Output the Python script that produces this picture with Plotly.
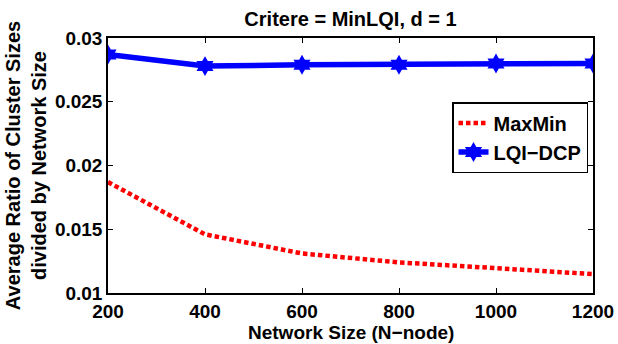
import plotly.graph_objects as go

# Network sizes (number of nodes)
n_nodes = [200, 400, 600, 800, 1000, 1200]

# Average cluster size ratio per algorithm
maxmin = [0.0187, 0.0146, 0.0131, 0.0124, 0.01195, 0.01148]
lqi_dcp = [0.0287, 0.0278, 0.0279, 0.0279, 0.0280, 0.0280]

x_ticks = [200, 400, 600, 800, 1000, 1200]
y_ticks = [0.01, 0.015, 0.02, 0.025, 0.03]
y_tick_text = ["0.01", "0.015", "0.02", "0.025", "0.03"]

FONT = "Liberation Sans, Arial, Helvetica, sans-serif"
BOLD20 = dict(family=FONT, size=20, color="black", weight="bold")
BOLD19 = dict(family=FONT, size=19, color="black", weight="bold")

fig = go.Figure()
fig.add_trace(go.Scatter(
    x=n_nodes, y=maxmin, name="MaxMin", mode="lines",
    line=dict(color="#ff0000", width=4.5, dash="4.5px,3px"),
))
fig.add_trace(go.Scatter(
    x=n_nodes, y=lqi_dcp, name="LQI\u2212DCP", mode="lines+markers",
    line=dict(color="#0000ff", width=5.5),
    marker=dict(symbol="hexagram", size=15, color="#0000ff"),
))

axis_common = dict(
    showgrid=False, zeroline=False, showline=True, linecolor="black",
    linewidth=1.5, mirror="ticks", ticks="inside", ticklen=5,
    tickcolor="black", tickwidth=1,
)

fig.update_layout(
    width=618, height=344,
    margin=dict(l=108, r=25, t=38, b=51, autoexpand=False),
    paper_bgcolor="white", plot_bgcolor="white",
    font=dict(family=FONT, color="black"),
    title=dict(
        text="Critere = MinLQI, d = 1", font=BOLD20,
        xref="paper", x=0.5, xanchor="center",
        yref="container", y=1 - 19 / 344, yanchor="middle",
    ),
    xaxis=dict(
        range=[200, 1200], tickvals=x_ticks, **axis_common,
        tickfont=BOLD19,
    ),
    yaxis=dict(
        range=[0.01, 0.03], tickvals=y_ticks, ticktext=y_tick_text, **axis_common,
        tickfont=BOLD19,
        title=dict(text="Average Ratio of Cluster Sizes<br>divided by Network Size",
                   standoff=3, font=BOLD20),
    ),
    legend=dict(
        x=(588 - 108) / 485, y=(293 - 102) / 255, xanchor="right", yanchor="top",
        bordercolor="black", borderwidth=1.5, bgcolor="white",
        font=BOLD20, tracegroupgap=0, itemwidth=30,
    ),
    showlegend=True,
)

# x-axis title, sitting just under the tick labels
fig.add_annotation(
    text="Network Size (N\u2212node)", font=BOLD19, showarrow=False,
    xref="paper", yref="paper", x=0.5, y=-40 / 255,
    xanchor="center", yanchor="middle",
)

fig.write_html("out.html")
